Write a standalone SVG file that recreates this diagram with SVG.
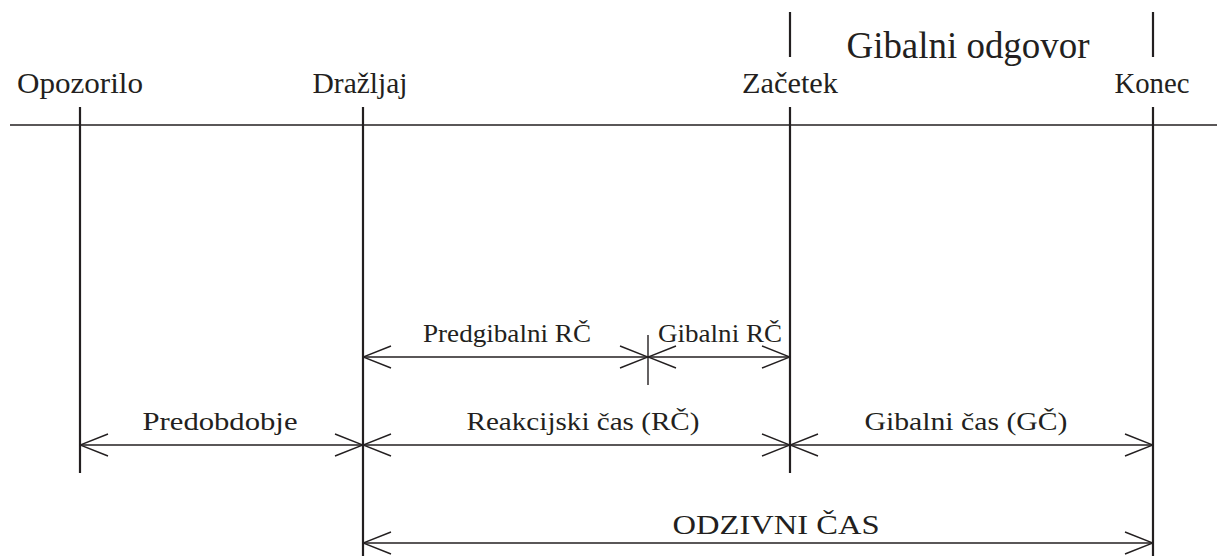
<svg xmlns="http://www.w3.org/2000/svg" width="1217" height="556" viewBox="0 0 1217 556">
<defs>
<style>
text{font-family:"Liberation Serif","Times New Roman",serif;fill:#231f20;text-anchor:middle}
.lab{font-size:30px}
.sm{font-size:26px}
.od{font-size:28px}
.big{font-size:38px}
.axis{stroke:#231f20;stroke-width:1.6;fill:none}
.v{stroke:#231f20;stroke-width:2.2;fill:none}
.dim{stroke:#231f20;stroke-width:1.4;fill:none}
</style>
<marker id="ah" viewBox="0 0 30 24" markerWidth="30" markerHeight="24" refX="29" refY="12" orient="auto-start-reverse" markerUnits="userSpaceOnUse">
<path d="M1,1 L29,12 L1,23" fill="none" stroke="#231f20" stroke-width="1.4"/>
</marker>
</defs>
<rect width="1217" height="556" fill="#ffffff"/>

<g id="axis">
<line class="axis" x1="10" y1="125" x2="1217" y2="125"/>
</g>

<g id="opozorilo">
<line class="v" x1="80" y1="107" x2="80" y2="473"/>
<text class="lab" x="80" y="93" textLength="126" lengthAdjust="spacingAndGlyphs">Opozorilo</text>
</g>
<g id="drazljaj">
<line class="v" x1="363" y1="107" x2="363" y2="556"/>
<text class="lab" x="360" y="93" textLength="95" lengthAdjust="spacingAndGlyphs">Dražljaj</text>
</g>
<g id="zacetek">
<line class="v" x1="790" y1="107" x2="790" y2="473"/>
<line class="v" x1="790" y1="12" x2="790" y2="57"/>
<text class="lab" x="790" y="93" textLength="96" lengthAdjust="spacingAndGlyphs">Začetek</text>
</g>
<g id="konec">
<line class="v" x1="1153" y1="107" x2="1153" y2="556"/>
<line class="v" x1="1153" y1="12" x2="1153" y2="57"/>
<text class="lab" x="1152" y="93" textLength="75" lengthAdjust="spacingAndGlyphs">Konec</text>
</g>
<g id="gibalni-odgovor">
<text class="big" x="968" y="58" textLength="243" lengthAdjust="spacingAndGlyphs">Gibalni odgovor</text>
</g>

<g id="connectors">
<line class="dim" x1="363" y1="357" x2="648" y2="357" marker-start="url(#ah)" marker-end="url(#ah)"/>
<line class="dim" x1="648" y1="357" x2="790" y2="357" marker-start="url(#ah)" marker-end="url(#ah)"/>
<line class="dim" x1="648" y1="335" x2="648" y2="385"/>
<line class="dim" x1="80" y1="445" x2="363" y2="445" marker-start="url(#ah)" marker-end="url(#ah)"/>
<line class="dim" x1="363" y1="445" x2="790" y2="445" marker-start="url(#ah)" marker-end="url(#ah)"/>
<line class="dim" x1="790" y1="445" x2="1153" y2="445" marker-start="url(#ah)" marker-end="url(#ah)"/>
<line class="dim" x1="363" y1="543" x2="1153" y2="543" marker-start="url(#ah)" marker-end="url(#ah)"/>
</g>

<g id="labels">
<text class="sm" x="507" y="342" textLength="168" lengthAdjust="spacingAndGlyphs">Predgibalni RČ</text>
<text class="sm" x="720" y="342" textLength="124" lengthAdjust="spacingAndGlyphs">Gibalni RČ</text>
<text class="sm" x="220" y="430" textLength="155" lengthAdjust="spacingAndGlyphs">Predobdobje</text>
<text class="sm" x="583" y="430" textLength="233" lengthAdjust="spacingAndGlyphs">Reakcijski čas (RČ)</text>
<text class="sm" x="966" y="430" textLength="203" lengthAdjust="spacingAndGlyphs">Gibalni čas (GČ)</text>
<text class="od" x="776" y="534" textLength="207" lengthAdjust="spacingAndGlyphs">ODZIVNI ČAS</text>
</g>
</svg>
